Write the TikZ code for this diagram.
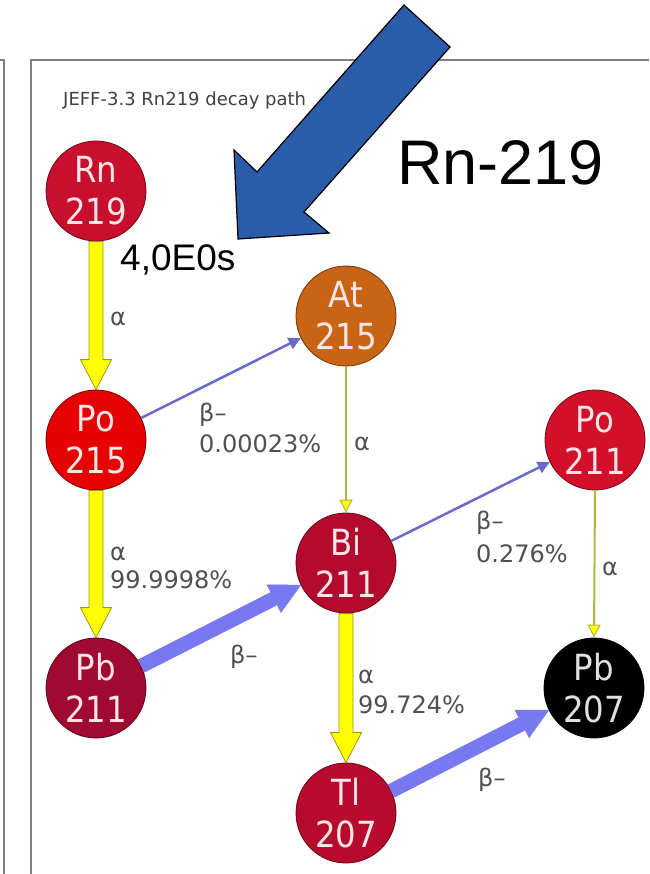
\documentclass[tikz,border=0pt]{standalone}
\usepackage{fontspec}
\setmainfont{DejaVu Sans}
\newfontfamily\condfont{DejaVu Sans Condensed}
\newfontfamily\arialfont{Liberation Sans}
\usetikzlibrary{arrows.meta,calc}
\definecolor{cRn}{HTML}{C8102E}
\definecolor{cPoA}{HTML}{E60000}
\definecolor{cAt}{HTML}{C86414}
\definecolor{cPoB}{HTML}{D2102A}
\definecolor{cBi}{HTML}{B40A2D}
\definecolor{cPbA}{HTML}{A00A32}
\definecolor{cTl}{HTML}{B80A2D}
\definecolor{yel}{HTML}{FFFF00}
\definecolor{olv}{HTML}{9A9A10}
\definecolor{thinolv}{HTML}{B4B43C}
\definecolor{thinblue}{HTML}{6A6AC8}
\definecolor{fatblue}{HTML}{7878F0}
\definecolor{bigblue}{HTML}{2A5CAA}
\definecolor{labgray}{HTML}{505050}
\definecolor{framegray}{HTML}{808080}
\newcommand\fatarrow[3]{%
  \path (#1) coordinate (faS) (#2) coordinate (faE);
  \path ($(faE)!30pt!(faS)$) coordinate (faH);
  \filldraw[#3] ($(faS)!7pt!90:(faE)$) -- ($(faH)!7pt!90:(faE)$) -- ($(faH)!15.5pt!90:(faE)$) -- (faE)
    -- ($(faH)!15.5pt!-90:(faE)$) -- ($(faH)!7pt!-90:(faE)$) -- ($(faS)!7pt!-90:(faE)$) -- cycle;
}
\begin{document}
\begin{tikzpicture}[x=1pt,y=-1pt,
  nuc/.style={circle,minimum size=100pt,inner sep=0pt,fill=#1,draw=#1!55!black,line width=0.8pt,
     text=white!90!red,align=center,font=\condfont\fontsize{36}{42}\selectfont},
  lab/.style={anchor=base west,inner sep=0pt,text=labgray,font=\fontsize{24}{28}\selectfont},
  fatyel/.style={fill=yel,draw=olv,line width=0.8pt},
  fatbl/.style={fill=fatblue,draw=fatblue,line width=0.5pt},
  thinyel/.style={draw=thinolv,line width=2pt,-{Triangle[width=13pt,length=13pt,fill=yel,line width=1pt]}},
  thinbl/.style={draw=thinblue,line width=2.5pt,-{Triangle[width=12pt,length=12pt]}}]
\useasboundingbox (0,0) rectangle (649,874);
\fill[white] (0,0) rectangle (649,874);
% frames
\draw[framegray,line width=1.5pt] (0,60) -- (4,60) -- (4,874);
\draw[framegray,line width=1.5pt] (649,60) -- (31,60) -- (31,874);
\node[anchor=base west,inner sep=0pt,text=black!75,font=\fontsize{18}{20}\selectfont] (title) at (63,106) {JEFF-3.3 Rn219 decay path};
% nuclides
\node[nuc=cRn] (rn) at (96,191) {Rn\\219};
\node[nuc=cPoA] (poA) at (96,440) {Po\\215};
\node[nuc=cAt] (at) at (346,316) {At\\215};
\node[nuc=cPoB] (poB) at (595,440) {Po\\211};
\node[nuc=cBi] (bi) at (346,563) {Bi\\211};
\node[nuc=cPbA] (pbA) at (96,688) {Pb\\211};
\node[nuc=black,draw=black,text=white!88!black] (pbB) at (594,688) {Pb\\207};
\node[nuc=cTl] (tl) at (346,813) {Tl\\207};
% decays
\fatarrow{rn.south}{poA.north}{fatyel}
\fatarrow{poA.south}{pbA.north}{fatyel}
\fatarrow{bi.south}{tl.north}{fatyel}
\fatarrow{pbA.26.5}{bi.206.5}{fatbl}
\fatarrow{tl.26.7}{pbB.206.7}{fatbl}
\draw[thinyel] (at.south) -- (bi.north);
\draw[thinyel] (poB.south) -- (pbB.north);
\draw[thinbl] (poA.26.4) -- (at.206.4);
\draw[thinbl] (bi.26.3) -- (poB.206.3);
% labels
\node[lab] (l1) at (110,325) {α};
\node[lab] (l2) at (199,421) {β–};
\node[lab] (l3) at (199,452) {0.00023\%};
\node[lab] (l4) at (354,450) {α};
\node[lab] (l5) at (110,560) {α};
\node[lab] (l6) at (110,588) {99.9998\%};
\node[lab] (l7) at (476,529) {β–};
\node[lab] (l8) at (476,562) {0.276\%};
\node[lab] (l9) at (602,575) {α};
\node[lab] (l10) at (230,663) {β–};
\node[lab] (l11) at (358,683) {α};
\node[lab] (l12) at (358,713) {99.724\%};
\node[lab] (l13) at (478,786) {β–};
% big arrow and annotations
\filldraw[fill=bigblue,draw=black,line width=1.2pt,line join=miter]
  (238,239) -- (234,150) -- (257,172) -- (404,5) -- (450,47) -- (304,212) -- (329,233) -- cycle;
\node[anchor=base west,inner sep=0pt,font=\arialfont\fontsize{63}{70}\selectfont] (name) at (397,185) {Rn-219};
\node[anchor=base west,inner sep=0pt,font=\arialfont\fontsize{37}{40}\selectfont] (hl) at (120,270) {4,0E0s};
\end{tikzpicture}
\end{document}
